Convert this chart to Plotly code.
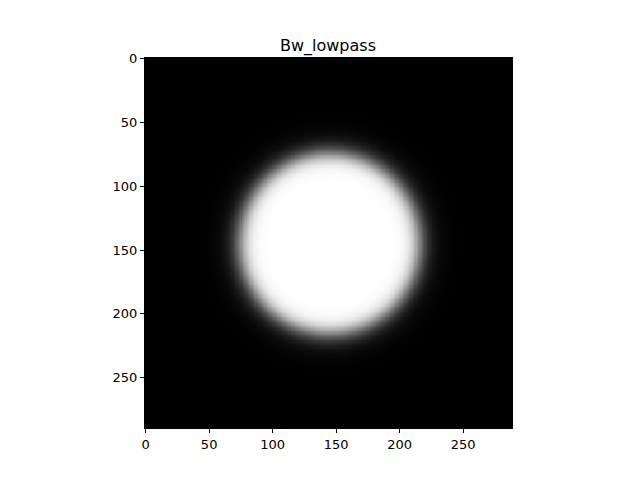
import numpy as np
import plotly.graph_objects as go

# Image / filter parameters
IMG_ROWS = 290
IMG_COLS = 289
CENTER_ROW = 145
CENTER_COL = 145
CUTOFF_D0 = 71
ORDER_N = 8
X_TICKS = [0, 50, 100, 150, 200, 250]
Y_TICKS = [0, 50, 100, 150, 200, 250]
TITLE = "Bw_lowpass"

rows = np.arange(IMG_ROWS)
cols = np.arange(IMG_COLS)
U, V = np.meshgrid(cols, rows)
D = np.sqrt((U - CENTER_COL) ** 2 + (V - CENTER_ROW) ** 2)
H = 1.0 / (1.0 + (D / CUTOFF_D0) ** (2 * ORDER_N))

fig = go.Figure(go.Heatmap(
    z=H, x=cols, y=rows,
    colorscale=[[0, "black"], [1, "white"]],
    zmin=0, zmax=1, showscale=False, hoverinfo="skip",
))

axis_common = dict(
    showgrid=False, zeroline=False, showline=True, linecolor="black", linewidth=1,
    mirror=True, ticks="outside", ticklen=4, tickcolor="black", tickwidth=1,
    automargin=False,
    tickfont=dict(family="DejaVu Sans", size=13, color="black"),
)
fig.update_xaxes(range=[-0.5, IMG_COLS - 0.5], tickvals=X_TICKS, **axis_common)
fig.update_yaxes(range=[IMG_ROWS - 0.5, -0.5], tickvals=Y_TICKS, **axis_common)

fig.update_layout(
    width=640, height=480,
    margin=dict(l=137, r=136, t=50, b=60),
    paper_bgcolor="white", plot_bgcolor="white",
    title=dict(text=TITLE, x=0.5, xanchor="center", y=1 - 37 / 480, yanchor="middle",
               font=dict(family="DejaVu Sans", size=16, color="black")),
)
fig.write_html("out.html")
